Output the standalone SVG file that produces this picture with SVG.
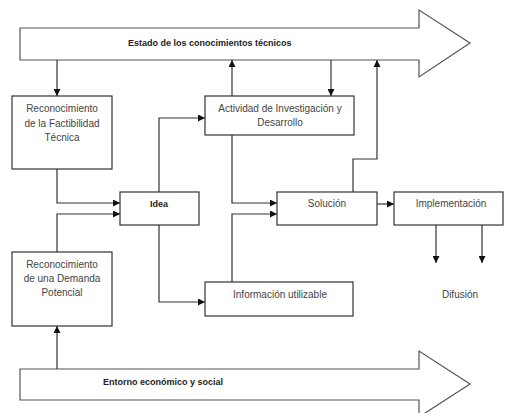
<svg xmlns="http://www.w3.org/2000/svg" width="506" height="413" viewBox="0 0 506 413">
<defs>
<style>
.box{fill:#fff;stroke:#333;stroke-width:1.2}
.big{fill:#fff;stroke:#555;stroke-width:1.2}
.ln{fill:none;stroke:#333;stroke-width:1.2}
text{font-family:"Liberation Sans",Arial,sans-serif;font-size:10px;fill:#444;text-anchor:middle}
.b{font-weight:bold;fill:#222;font-size:9px}
.l{text-anchor:start}
</style>
<marker id="ah" viewBox="0 0 10 10" refX="10" refY="5" markerWidth="7" markerHeight="7" markerUnits="userSpaceOnUse" orient="auto">
<path d="M0,0 L10,5 L0,10 z" fill="#111"/>
</marker>
</defs>
<g id="top-arrow">
<polygon class="big" points="20,28 419,28 419,10 470,43 419,77 419,60 20,60"/>
<text class="b l" x="128" y="46">Estado de los conocimientos técnicos</text>
</g>
<g id="bottom-arrow">
<polygon class="big" points="20,369 419,369 419,351 470,384 419,417 419,400 20,400"/>
<text class="b l" x="103" y="385">Entorno económico y social</text>
</g>
<g id="connectors">
<path class="ln" d="M57,60 V96" marker-end="url(#ah)"/>
<path class="ln" d="M232,96 V60" marker-end="url(#ah)"/>
<path class="ln" d="M331,60 V96" marker-end="url(#ah)"/>
<path class="ln" d="M353,192 V159 H377 V60" marker-end="url(#ah)"/>
<path class="ln" d="M57,169 V203 H120" marker-end="url(#ah)"/>
<path class="ln" d="M57,252 V214 H120" marker-end="url(#ah)"/>
<path class="ln" d="M57,369 V326" marker-end="url(#ah)"/>
<path class="ln" d="M159,192 V118 H205" marker-end="url(#ah)"/>
<path class="ln" d="M159,225 V302 H205" marker-end="url(#ah)"/>
<path class="ln" d="M232,135 V203 H277" marker-end="url(#ah)"/>
<path class="ln" d="M232,282 V214 H277" marker-end="url(#ah)"/>
<path class="ln" d="M377,204 H394" marker-end="url(#ah)"/>
<path class="ln" d="M436,225 V263" marker-end="url(#ah)"/>
<path class="ln" d="M482,225 V263" marker-end="url(#ah)"/>
</g>
<g id="factibilidad">
<rect class="box" x="12" y="96" width="100" height="73"/>
<text x="62" y="112">Reconocimiento</text>
<text x="62" y="127">de la Factibilidad</text>
<text x="62" y="141">Técnica</text>
</g>
<g id="demanda">
<rect class="box" x="12" y="252" width="100" height="74"/>
<text x="62" y="268">Reconocimiento</text>
<text x="62" y="282">de una Demanda</text>
<text x="62" y="296">Potencial</text>
</g>
<g id="idea">
<rect class="box" x="120" y="192" width="79" height="33"/>
<text class="b" x="159" y="207">Idea</text>
</g>
<g id="actividad">
<rect class="box" x="205" y="96" width="149" height="39"/>
<text x="280" y="112">Actividad de Investigación y</text>
<text x="280" y="126">Desarrollo</text>
</g>
<g id="informacion">
<rect class="box" x="205" y="282" width="148" height="34"/>
<text x="280" y="298">Información utilizable</text>
</g>
<g id="solucion">
<rect class="box" x="277" y="192" width="100" height="33"/>
<text x="327" y="207">Solución</text>
</g>
<g id="implementacion">
<rect class="box" x="394" y="192" width="109" height="33"/>
<text x="451" y="207">Implementación</text>
</g>
<g id="difusion">
<text x="460" y="298">Difusión</text>
</g>
</svg>
